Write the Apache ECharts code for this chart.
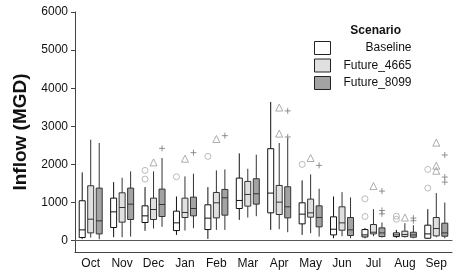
<!DOCTYPE html>
<html>
<head>
<meta charset="UTF-8">
<title>Inflow by month</title>
<script src="https://cdn.jsdelivr.net/npm/echarts@6/dist/echarts.min.js"></script>
<style>
  html, body { margin: 0; padding: 0; background: #fff; }
  #main { width: 453px; height: 272px; }
</style>
</head>
<body>
<div id="main"></div>
<script>
// months and scenarios
var months = ['Oct', 'Nov', 'Dec', 'Jan', 'Feb', 'Mar', 'Apr', 'May', 'Jun', 'Jul', 'Aug', 'Sep'];
var scenarios = ['Baseline', 'Future_4665', 'Future_8099'];
var yTicks = [0, 1000, 2000, 3000, 4000, 5000, 6000];

// box values per month: [min, Q1, median, Q3, max]
var baselineBox = [
  [44, 79, 281, 1045, 1790],
  [88, 342, 754, 1114, 1535],
  [254, 474, 649, 912, 1404],
  [149, 263, 465, 772, 1158],
  [44, 289, 588, 939, 1404],
  [544, 842, 1053, 1640, 2289],
  [281, 728, 1246, 2412, 3640],
  [149, 439, 693, 991, 1579],
  [61, 149, 298, 623, 1158],
  [60, 96, 149, 289, 330],
  [70, 105, 149, 202, 281],
  [44, 61, 175, 404, 825]
];
var future4665Box = [
  [79, 202, 561, 1439, 2649],
  [88, 483, 868, 1254, 1649],
  [316, 553, 816, 1114, 1816],
  [263, 605, 737, 1114, 1684],
  [281, 596, 991, 1263, 1842],
  [605, 904, 1211, 1553, 1886],
  [298, 684, 1009, 1447, 2561],
  [193, 614, 728, 1088, 1737],
  [114, 272, 465, 886, 1272],
  [114, 175, 219, 421, 825],
  [79, 105, 158, 246, 456],
  [88, 123, 316, 605, 1246]
];
var future8099Box = [
  [35, 175, 518, 1377, 2561],
  [105, 553, 956, 1377, 1816],
  [360, 632, 947, 1351, 2167],
  [325, 649, 842, 1140, 1754],
  [281, 667, 1123, 1342, 1868],
  [640, 956, 1228, 1623, 2254],
  [219, 596, 886, 1412, 2693],
  [105, 360, 605, 912, 1360],
  [61, 132, 281, 605, 1132],
  [79, 105, 202, 333, 474],
  [61, 88, 149, 219, 404],
  [61, 114, 202, 456, 1000]
];

// outliers: [month, value]
var baselineOut = [
  ['Dec', 1842], ['Dec', 1614], ['Jan', 1675], ['Feb', 2210], ['May', 2000],
  ['Jul', 1096], ['Jul', 632], ['Aug', 640], ['Aug', 560],
  ['Sep', 1868], ['Sep', 1377]
];
var future4665Out = [
  ['Dec', 2053], ['Jan', 2149], ['Feb', 2667], ['Apr', 3491], ['Apr', 2807],
  ['May', 2167], ['Jul', 1430], ['Aug', 605],
  ['Sep', 2570], ['Sep', 1965], ['Sep', 1833]
];
var future8099Out = [
  ['Dec', 2421], ['Jan', 2307], ['Feb', 2754], ['Apr', 3404], ['Apr', 2719],
  ['May', 1974], ['Jul', 1300], ['Jul', 790], ['Jul', 700],
  ['Aug', 590], ['Aug', 520],
  ['Sep', 2246], ['Sep', 1667], ['Sep', 1535]
];

var fills = ['#ffffff', '#e0e0e0', '#a3a3a3'];
var borders = ['#111111', '#333333', '#333333'];
var offsets = [-8.5, 0, 8.5];
var plusPath = 'path://M5,0L5,10M0,5L10,5';

var myChart = echarts.init(document.getElementById('main'));

// box + whiskers without end caps
function boxSeries(name, rows, i) {
  return {
    name: name,
    type: 'custom',
    data: rows.map(function (r, k) { return [k].concat(r); }),
    encode: { x: 0, y: [1, 2, 3, 4, 5] },
    itemStyle: { color: fills[i], borderColor: borders[i] },
    renderItem: function (params, api) {
      var x = api.coord([api.value(0), 0])[0] + offsets[i];
      var yMin = api.coord([api.value(0), api.value(1)])[1];
      var yQ1 = api.coord([api.value(0), api.value(2)])[1];
      var yMed = api.coord([api.value(0), api.value(3)])[1];
      var yQ3 = api.coord([api.value(0), api.value(4)])[1];
      var yMax = api.coord([api.value(0), api.value(5)])[1];
      var w = 6;
      var line = { stroke: borders[i], lineWidth: 1 };
      return {
        type: 'group',
        children: [
          { type: 'line', shape: { x1: x, y1: yQ3, x2: x, y2: yMax }, style: line },
          { type: 'line', shape: { x1: x, y1: yQ1, x2: x, y2: yMin }, style: line },
          { type: 'rect', shape: { x: x - w / 2, y: yQ3, width: w, height: yQ1 - yQ3 },
            style: { fill: fills[i], stroke: borders[i], lineWidth: 1 } },
          { type: 'line', shape: { x1: x - w / 2, y1: yMed, x2: x + w / 2, y2: yMed }, style: line }
        ]
      };
    },
    z: 2
  };
}

// hollow markers drawn with a thin stroke
function outSeries(data, symbol, color, offset, size) {
  return {
    type: 'scatter',
    data: data,
    symbol: symbol,
    symbolSize: size,
    symbolOffset: [offset, 0],
    itemStyle: { color: 'none', borderColor: color, borderWidth: 1 },
    z: 3
  };
}

var option = {
  animation: false,
  textStyle: { fontFamily: 'Liberation Sans, Arial, sans-serif' },
  grid: { left: 75, right: 1, top: 12, bottom: 20 },
  title: {
    text: 'Scenario',
    right: 47,
    top: 20,
    textStyle: { fontSize: 12, fontWeight: 'bold', color: '#111', fontFamily: 'Liberation Sans' }
  },
  legend: {
    orient: 'vertical',
    left: 309,
    top: 36,
    itemWidth: 16,
    itemHeight: 13,
    itemGap: 3.5,
    icon: 'rect',
    selectedMode: false,
    data: scenarios.map(function (s, i) {
      return { name: s, itemStyle: { color: fills[i], borderColor: '#222', borderWidth: 1 } };
    }),
    formatter: function (name) { return '{r|' + name + '}'; },
    textStyle: {
      rich: { r: { width: 76, align: 'right', fontSize: 12, lineHeight: 13, color: '#111', fontFamily: 'Liberation Sans' } }
    }
  },
  xAxis: [{
    type: 'category',
    data: months,
    boundaryGap: true,
    axisLine: { onZero: false, lineStyle: { color: '#444' } },
    axisTick: { alignWithLabel: true, length: 4, lineStyle: { color: '#444' } },
    axisLabel: { margin: 6, fontSize: 12, color: '#111' },
    splitLine: { show: false }
  }, {
    type: 'category',
    data: months,
    position: 'top',
    axisLine: { lineStyle: { color: '#555' } },
    axisTick: { show: false },
    axisLabel: { show: false }
  }],
  yAxis: {
    type: 'value',
    min: -300,
    max: 6000,
    name: 'Inflow (MGD)',
    nameLocation: 'middle',
    nameGap: 42,
    nameTextStyle: { fontSize: 19, fontWeight: 'bold', color: '#111' },
    axisLine: { show: true, lineStyle: { color: '#444' } },
    axisTick: { show: true, length: 4, customValues: yTicks, lineStyle: { color: '#444' } },
    axisLabel: {
      margin: 7, fontSize: 12, color: '#111', customValues: yTicks,
      formatter: function (v) { return String(v); }
    },
    splitLine: { show: false }
  },
  series: [
    boxSeries(scenarios[0], baselineBox, 0),
    boxSeries(scenarios[1], future4665Box, 1),
    boxSeries(scenarios[2], future8099Box, 2),
    outSeries(baselineOut, 'circle', '#aaaaaa', -8.5, 6),
    outSeries(future4665Out, 'triangle', '#999999', 0, 7),
    outSeries(future8099Out, plusPath, '#777777', 8.5, 6)
  ]
};
myChart.setOption(option);
</script>
</body>
</html>
